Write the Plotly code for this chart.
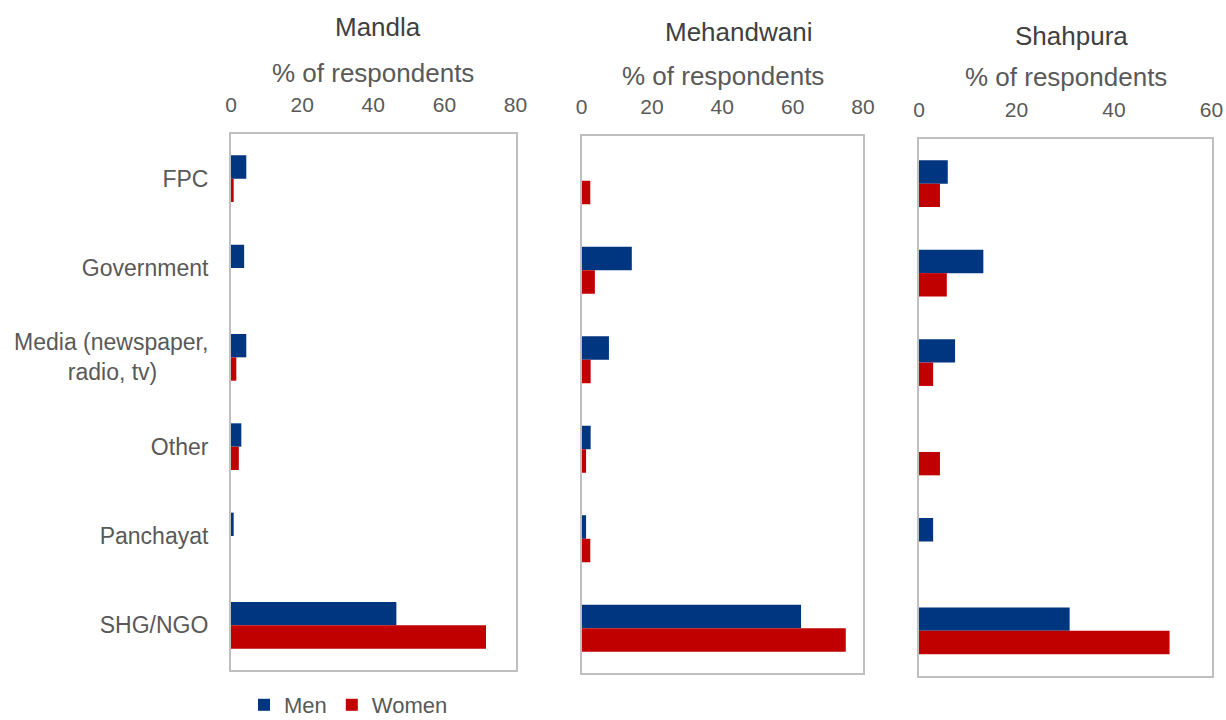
import plotly.graph_objects as go

# Source of information, by district and gender (% of respondents)
categories = ["FPC", "Government", "Media (newspaper,<br>radio, tv)\u00a0\u00a0\u00a0\u00a0\u00a0\u00a0\u00a0\u00a0",
              "Other", "Panchayat", "SHG/NGO"]
districts = ["Mandla", "Mehandwani", "Shahpura"]

mandla_men = [4.3, 3.7, 4.3, 2.9, 0.75, 46.5]
mandla_women = [0.75, 0, 1.5, 2.2, 0, 71.7]
mehandwani_men = [0, 14.3, 7.8, 2.6, 1.3, 62.4]
mehandwani_women = [2.5, 3.8, 2.6, 1.3, 2.5, 75.1]
shahpura_men = [5.9, 13.2, 7.4, 0, 2.9, 30.9]
shahpura_women = [4.3, 5.7, 2.9, 4.3, 0, 51.4]

x_ranges = [80, 80, 60]

MEN = "#00367f"
WOMEN = "#c00000"
FONT = "Liberation Sans"
W, H = 1226, 720

# panel boxes in pixels: (left, right, top, bottom)
boxes = [(231, 515.5, 134, 670), (581.5, 863, 136, 673), (919, 1211.5, 139, 675.5)]

men_series = [mandla_men, mehandwani_men, shahpura_men]
women_series = [mandla_women, mehandwani_women, shahpura_women]

fig = go.Figure()
for i in range(3):
    sfx = "" if i == 0 else str(i + 1)
    fig.add_trace(go.Bar(y=categories, x=men_series[i], orientation="h", name="Men",
                         marker=dict(color=MEN, line=dict(width=0)),
                         xaxis="x" + sfx, yaxis="y" + sfx,
                         showlegend=(i == 0), legendgroup="men"))
    fig.add_trace(go.Bar(y=categories, x=women_series[i], orientation="h", name="Women",
                         marker=dict(color=WOMEN, line=dict(width=0)),
                         xaxis="x" + sfx, yaxis="y" + sfx,
                         showlegend=(i == 0), legendgroup="women"))

layout = dict(
    width=W, height=H,
    margin=dict(l=0, r=0, t=0, b=0, autoexpand=False),
    paper_bgcolor="white", plot_bgcolor="white",
    barmode="group", bargap=0.477, bargroupgap=0,
    font=dict(family=FONT, color="#595959", size=20),
    showlegend=True,
    legend=dict(orientation="h", x=244 / W, xanchor="left", y=1 - 705 / H, yanchor="middle",
                font=dict(size=22, color="#595959"), bgcolor="rgba(0,0,0,0)",
                traceorder="normal"),
)

annotations = []
for i, (l, r, t, b) in enumerate(boxes):
    sfx = "" if i == 0 else str(i + 1)
    layout["xaxis" + sfx] = dict(
        domain=[l / W, r / W], anchor="y" + sfx, side="top", automargin=False,
        range=[0, x_ranges[i]], dtick=20, showgrid=False, zeroline=False,
        showline=True, mirror=True, linecolor="#bfbfbf", linewidth=2,
        ticks="", ticklabelstandoff=12,
        tickfont=dict(size=21, color="#595959", family=FONT),
    )
    layout["yaxis" + sfx] = dict(
        domain=[1 - b / H, 1 - t / H], anchor="x" + sfx, automargin=False,
        autorange="reversed", showgrid=False, zeroline=False,
        showline=True, mirror=True, linecolor="#bfbfbf", linewidth=2,
        ticks="", showticklabels=(i == 0), ticklabelstandoff=16,
        tickfont=dict(size=23, color="#595959", family=FONT),
    )

title_pos = [(378, 27, 373, 73), (738, 32, 722.5, 76), (1071, 36, 1066, 77)]
for name, (tx, ty, sx, sy) in zip(districts, title_pos):
    annotations.append(dict(text=name, x=tx / W, y=1 - ty / H, xref="paper", yref="paper",
                            xanchor="center", yanchor="middle", showarrow=False,
                            font=dict(size=26, color="#404040", family=FONT)))
    annotations.append(dict(text="% of respondents", x=sx / W, y=1 - sy / H, xref="paper",
                            yref="paper", xanchor="center", yanchor="middle", showarrow=False,
                            font=dict(size=26, color="#595959", family=FONT)))
layout["annotations"] = annotations

fig.update_layout(**layout)
fig.write_html("out.html")
